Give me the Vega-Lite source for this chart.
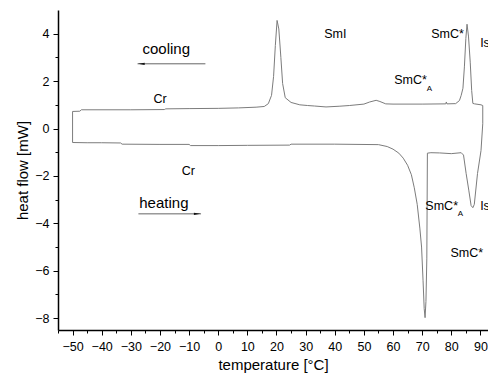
{
  "$schema": "https://vega.github.io/schema/vega-lite/v6.json",
  "width": 430,
  "height": 320,
  "autosize": "none",
  "padding": {"left": 58, "top": 10, "right": 0, "bottom": 43},
  "background": "white",
  "config": {"font": "Liberation Sans", "view": {"stroke": null}},
  "datasets": {
    "curve": [
      {"order": 1, "t": -50, "hf": -0.59},
      {"order": 2, "t": -45, "hf": -0.6},
      {"order": 3, "t": -40, "hf": -0.6},
      {"order": 4, "t": -33.5, "hf": -0.61},
      {"order": 5, "t": -33, "hf": -0.66},
      {"order": 6, "t": -20, "hf": -0.67},
      {"order": 7, "t": -10, "hf": -0.67},
      {"order": 8, "t": -9.5, "hf": -0.72},
      {"order": 9, "t": 0, "hf": -0.72},
      {"order": 10, "t": 10, "hf": -0.71},
      {"order": 11, "t": 24.5, "hf": -0.7},
      {"order": 12, "t": 25, "hf": -0.66},
      {"order": 13, "t": 40, "hf": -0.66},
      {"order": 14, "t": 55, "hf": -0.68},
      {"order": 15, "t": 58, "hf": -0.76},
      {"order": 16, "t": 60, "hf": -0.87},
      {"order": 17, "t": 62, "hf": -1.04},
      {"order": 18, "t": 63.5, "hf": -1.25},
      {"order": 19, "t": 65, "hf": -1.55},
      {"order": 20, "t": 66.3, "hf": -1.95},
      {"order": 21, "t": 67.3, "hf": -2.5},
      {"order": 22, "t": 68.3, "hf": -3.2},
      {"order": 23, "t": 69.2, "hf": -4.2},
      {"order": 24, "t": 69.8, "hf": -5.0},
      {"order": 25, "t": 70.3, "hf": -6.4},
      {"order": 26, "t": 70.7, "hf": -7.6},
      {"order": 27, "t": 71.0, "hf": -7.98},
      {"order": 28, "t": 71.3, "hf": -7.3},
      {"order": 29, "t": 71.6, "hf": -5.5},
      {"order": 30, "t": 71.8, "hf": -1.04},
      {"order": 31, "t": 73, "hf": -1.02},
      {"order": 32, "t": 76, "hf": -1.03},
      {"order": 33, "t": 80, "hf": -1.06},
      {"order": 34, "t": 83.4, "hf": -1.02},
      {"order": 35, "t": 84.2, "hf": -1.12},
      {"order": 36, "t": 85.1, "hf": -1.9},
      {"order": 37, "t": 86.0, "hf": -2.6},
      {"order": 38, "t": 86.8, "hf": -3.25},
      {"order": 39, "t": 87.4, "hf": -3.34},
      {"order": 40, "t": 87.9, "hf": -3.2},
      {"order": 41, "t": 89.0, "hf": -1.9},
      {"order": 42, "t": 90.2, "hf": -0.93},
      {"order": 43, "t": 90.8, "hf": 0.2},
      {"order": 44, "t": 90.8, "hf": 0.97},
      {"order": 45, "t": 90.2, "hf": 1.0},
      {"order": 46, "t": 88.0, "hf": 1.04},
      {"order": 47, "t": 87.4, "hf": 1.06},
      {"order": 48, "t": 87.0, "hf": 1.6},
      {"order": 49, "t": 86.5, "hf": 2.8},
      {"order": 50, "t": 85.9, "hf": 3.9},
      {"order": 51, "t": 85.4, "hf": 4.4},
      {"order": 52, "t": 85.0, "hf": 3.8},
      {"order": 53, "t": 84.5, "hf": 2.6},
      {"order": 54, "t": 84.0, "hf": 1.7},
      {"order": 55, "t": 83.4, "hf": 1.4},
      {"order": 56, "t": 82.8, "hf": 1.18},
      {"order": 57, "t": 81.5, "hf": 1.05},
      {"order": 58, "t": 78.5, "hf": 1.04},
      {"order": 59, "t": 78.3, "hf": 1.12},
      {"order": 60, "t": 78.1, "hf": 1.04},
      {"order": 61, "t": 70, "hf": 1.03},
      {"order": 62, "t": 60, "hf": 1.03},
      {"order": 63, "t": 57.5, "hf": 1.04},
      {"order": 64, "t": 55.5, "hf": 1.14},
      {"order": 65, "t": 54.2, "hf": 1.19},
      {"order": 66, "t": 52, "hf": 1.12},
      {"order": 67, "t": 50, "hf": 1.03},
      {"order": 68, "t": 45, "hf": 0.97},
      {"order": 69, "t": 41.5, "hf": 0.94},
      {"order": 70, "t": 37, "hf": 0.91},
      {"order": 71, "t": 33, "hf": 0.95},
      {"order": 72, "t": 30.7, "hf": 0.97},
      {"order": 73, "t": 28, "hf": 1.0},
      {"order": 74, "t": 25, "hf": 1.1},
      {"order": 75, "t": 23, "hf": 1.3},
      {"order": 76, "t": 22.1, "hf": 1.9},
      {"order": 77, "t": 21.5, "hf": 3.0},
      {"order": 78, "t": 20.8, "hf": 4.2},
      {"order": 79, "t": 20.2, "hf": 4.56},
      {"order": 80, "t": 19.6, "hf": 3.5},
      {"order": 81, "t": 19.0, "hf": 2.2},
      {"order": 82, "t": 18.3, "hf": 1.4},
      {"order": 83, "t": 17.2, "hf": 1.05},
      {"order": 84, "t": 15.8, "hf": 0.93},
      {"order": 85, "t": 13, "hf": 0.9},
      {"order": 86, "t": 7, "hf": 0.87},
      {"order": 87, "t": 0, "hf": 0.85},
      {"order": 88, "t": -10, "hf": 0.84},
      {"order": 89, "t": -18, "hf": 0.83},
      {"order": 90, "t": -18.5, "hf": 0.8},
      {"order": 91, "t": -30, "hf": 0.79},
      {"order": 92, "t": -47, "hf": 0.79},
      {"order": 93, "t": -47.5, "hf": 0.73},
      {"order": 94, "t": -50, "hf": 0.72},
      {"order": 95, "t": -50, "hf": -0.59}
    ],
    "arrows": [
      {"t1": -27.7, "t2": -4.4, "hf": 2.73},
      {"t1": -27.4, "t2": -5.9, "hf": -3.6}
    ],
    "heads": [
      {"t": -26.4, "hf": 2.73, "dir": "left"},
      {"t": -7.2, "hf": -3.6, "dir": "right"}
    ],
    "big": [
      {"t": -26.0, "hf": 3.16, "label": "cooling"},
      {"t": -27.1, "hf": -3.35, "label": "heating"}
    ],
    "labels": [
      {"t": -22.2, "hf": 1.09, "label": "Cr"},
      {"t": -12.5, "hf": -1.97, "label": "Cr"},
      {"t": 36.4, "hf": 3.83, "label": "SmI"},
      {"t": 73.1, "hf": 3.83, "label": "SmC*"},
      {"t": 89.9, "hf": 3.46, "label": "Is"},
      {"t": 60.4, "hf": 1.86, "label": "SmC*"},
      {"t": 71.1, "hf": -3.43, "label": "SmC*"},
      {"t": 89.9, "hf": -3.43, "label": "Is"},
      {"t": 79.7, "hf": -5.41, "label": "SmC*"}
    ],
    "subs": [
      {"t": 71.6, "hf": 1.58, "label": "A"},
      {"t": 82.2, "hf": -3.68, "label": "A"}
    ]
  },
  "layer": [
    {
      "data": {"name": "curve"},
      "mark": {"type": "line", "color": "#7c7c7c", "strokeWidth": 1, "clip": true},
      "encoding": {
        "x": {
          "field": "t", "type": "quantitative",
          "scale": {"domain": [-55, 92.6], "nice": false, "zero": false},
          "axis": {
            "title": "temperature [°C]",
            "values": [-55, -50, -45, -40, -35, -30, -25, -20, -15, -10, -5, 0, 5, 10, 15, 20, 25, 30, 35, 40, 45, 50, 55, 60, 65, 70, 75, 80, 85, 90],
            "tickCount": 200,
            "format": "d",
            "labelExpr": "abs(datum.value) % 10 == 0 ? datum.label : ''",
            "grid": false,
            "domainColor": "#000", "domainWidth": 1.5,
            "tickColor": "#000", "tickWidth": 1,
            "tickSize": {"condition": {"test": "abs(datum.value) % 10 == 0", "value": 5}, "value": 3},
            "labelColor": "#000", "labelFontSize": 12.5, "labelPadding": 5,
            "labelFlush": false, "labelOverlap": false,
            "titleColor": "#000", "titleFontSize": 15, "titleFontWeight": "normal", "titlePadding": 5
          }
        },
        "y": {
          "field": "hf", "type": "quantitative",
          "scale": {"domain": [-8.5, 5], "nice": false, "zero": false},
          "axis": {
            "title": "heat flow [mW]",
            "values": [-8, -7, -6, -5, -4, -3, -2, -1, 0, 1, 2, 3, 4],
            "tickCount": 200,
            "format": "d",
            "labelExpr": "abs(datum.value) % 2 == 0 ? datum.label : ''",
            "grid": false,
            "domainColor": "#000", "domainWidth": 1.5,
            "tickColor": "#000", "tickWidth": 1,
            "tickSize": {"condition": {"test": "abs(datum.value) % 2 == 0", "value": 5}, "value": 3},
            "labelColor": "#000", "labelFontSize": 12.5, "labelPadding": 4,
            "labelFlush": false, "labelOverlap": false,
            "titleColor": "#000", "titleFontSize": 15, "titleFontWeight": "normal", "titlePadding": 4
          }
        },
        "order": {"field": "order", "type": "quantitative"}
      }
    },
    {
      "mark": {"type": "rule", "color": "#333", "strokeWidth": 2},
      "encoding": {"y": {"datum": 5, "type": "quantitative"}}
    },
    {
      "data": {"name": "arrows"},
      "mark": {"type": "rule", "color": "#666", "strokeWidth": 1},
      "encoding": {
        "x": {"field": "t1", "type": "quantitative"},
        "x2": {"field": "t2"},
        "y": {"field": "hf", "type": "quantitative"}
      }
    },
    {
      "data": {"name": "heads"},
      "mark": {"type": "point", "filled": true, "color": "#111", "opacity": 1, "size": 45, "strokeWidth": 0},
      "encoding": {
        "x": {"field": "t", "type": "quantitative"},
        "y": {"field": "hf", "type": "quantitative"},
        "shape": {"field": "dir", "type": "nominal", "legend": null,
          "scale": {"domain": ["left", "right"], "range": ["M-1,0L1,-0.35L1,0.35Z", "M1,0L-1,-0.35L-1,0.35Z"]}}
      }
    },
    {
      "data": {"name": "big"},
      "mark": {"type": "text", "align": "left", "baseline": "alphabetic", "fontSize": 15, "color": "#000"},
      "encoding": {
        "x": {"field": "t", "type": "quantitative"},
        "y": {"field": "hf", "type": "quantitative"},
        "text": {"field": "label"}
      }
    },
    {
      "data": {"name": "labels"},
      "mark": {"type": "text", "align": "left", "baseline": "alphabetic", "fontSize": 12.5, "color": "#000"},
      "encoding": {
        "x": {"field": "t", "type": "quantitative"},
        "y": {"field": "hf", "type": "quantitative"},
        "text": {"field": "label"}
      }
    },
    {
      "data": {"name": "subs"},
      "mark": {"type": "text", "align": "left", "baseline": "alphabetic", "fontSize": 8, "color": "#000"},
      "encoding": {
        "x": {"field": "t", "type": "quantitative"},
        "y": {"field": "hf", "type": "quantitative"},
        "text": {"field": "label"}
      }
    }
  ]
}
